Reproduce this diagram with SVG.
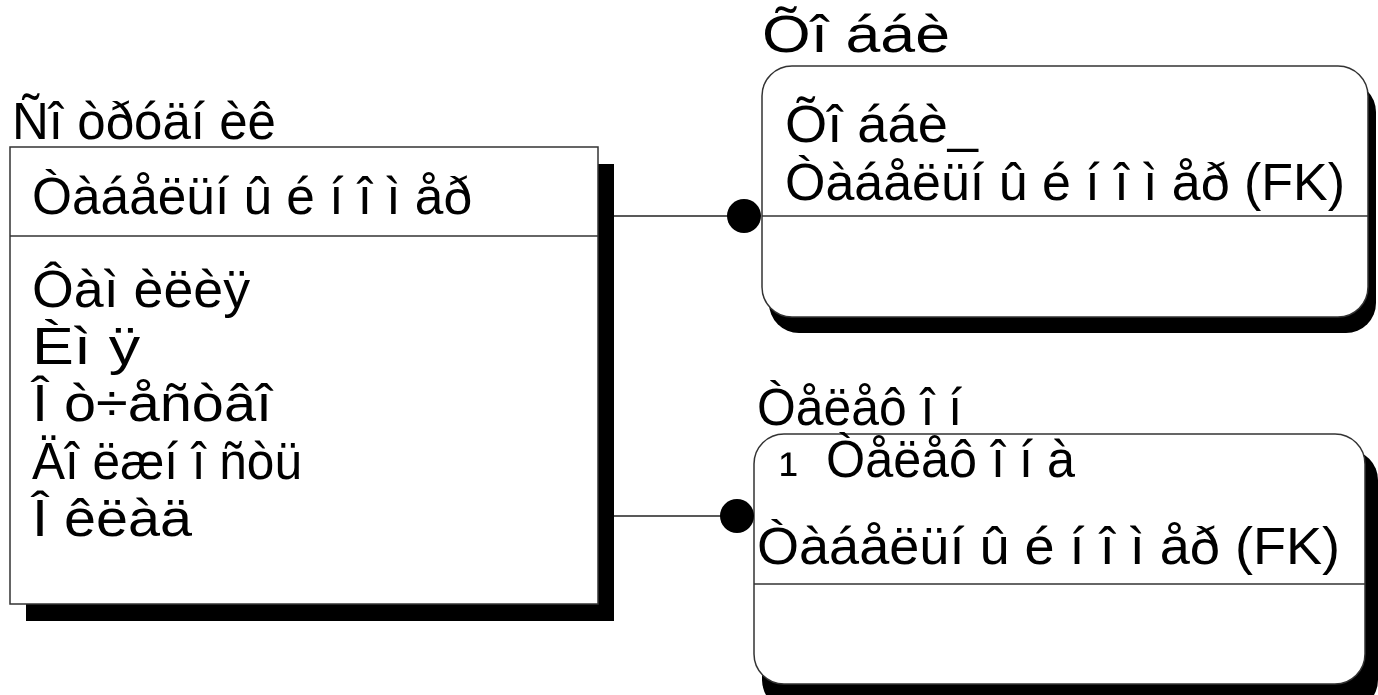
<svg xmlns="http://www.w3.org/2000/svg" width="1378" height="695" viewBox="0 0 1378 695">
<style>
.t{font-family:"Liberation Sans Narrow","Liberation Sans",Arial,sans-serif;font-size:52px;fill:#000}
.box{fill:#fff;stroke:#333;stroke-width:1.5}
.sh{fill:#000}
.div{stroke:#333;stroke-width:1.5}
.conn{stroke:#222;stroke-width:1.5;fill:none}
</style>
<g id="employee">
<rect class="sh" x="26" y="164" width="588" height="457"/>
<rect class="box" x="10" y="147" width="588" height="457"/>
<line class="div" x1="10" y1="236" x2="598" y2="236"/>
<text class="t" x="12" y="139" textLength="264" lengthAdjust="spacingAndGlyphs">Ñî òðóäí èê</text>
<text class="t" x="32" y="214" textLength="440" lengthAdjust="spacingAndGlyphs">Òàáåëüí û é í î ì åð</text>
<text class="t" x="32" y="307" textLength="218" lengthAdjust="spacingAndGlyphs">Ôàì èëèÿ</text>
<text class="t" x="32" y="364" textLength="108" lengthAdjust="spacingAndGlyphs">Èì ÿ</text>
<text class="t" x="32" y="421" textLength="240" lengthAdjust="spacingAndGlyphs">Î ò÷åñòâî</text>
<text class="t" x="32" y="479" textLength="270" lengthAdjust="spacingAndGlyphs">Äî ëæí î ñòü</text>
<text class="t" x="32" y="536" textLength="160" lengthAdjust="spacingAndGlyphs">Î êëàä</text>
</g>
<g id="hobby">
<rect class="sh" x="769" y="82" width="607" height="251" rx="30" ry="30"/>
<rect class="box" x="762" y="66" width="606" height="251" rx="30" ry="30"/>
<line class="div" x1="762" y1="216" x2="1368" y2="216"/>
<text class="t" x="762" y="52" textLength="188" lengthAdjust="spacingAndGlyphs">Õî ááè</text>
<text class="t" x="785" y="142" textLength="193" lengthAdjust="spacingAndGlyphs">Õî ááè_</text>
<text class="t" x="785" y="200" textLength="560" lengthAdjust="spacingAndGlyphs">Òàáåëüí û é í î ì åð (FK)</text>
</g>
<g id="phone">
<rect class="sh" x="762" y="450" width="616" height="260" rx="30" ry="30"/>
<rect class="box" x="754" y="434" width="611" height="250" rx="30" ry="30"/>
<line class="div" x1="754" y1="584" x2="1365" y2="584"/>
<text class="t" x="757" y="425" textLength="205" lengthAdjust="spacingAndGlyphs">Òåëåô î í</text>
<text class="t" x="779" y="492" style="font-size:56px">¹</text>
<text class="t" x="826" y="477" textLength="249" lengthAdjust="spacingAndGlyphs">Òåëåô î í à</text>
<text class="t" x="757" y="564" textLength="583" lengthAdjust="spacingAndGlyphs">Òàáåëüí û é í î ì åð (FK)</text>
</g>
<g id="connectors">
<line class="conn" x1="614" y1="216" x2="744" y2="216"/>
<circle cx="744" cy="216" r="17" fill="#000"/>
<line class="conn" x1="614" y1="516" x2="737" y2="516"/>
<circle cx="737" cy="516" r="17" fill="#000"/>
</g>
</svg>
